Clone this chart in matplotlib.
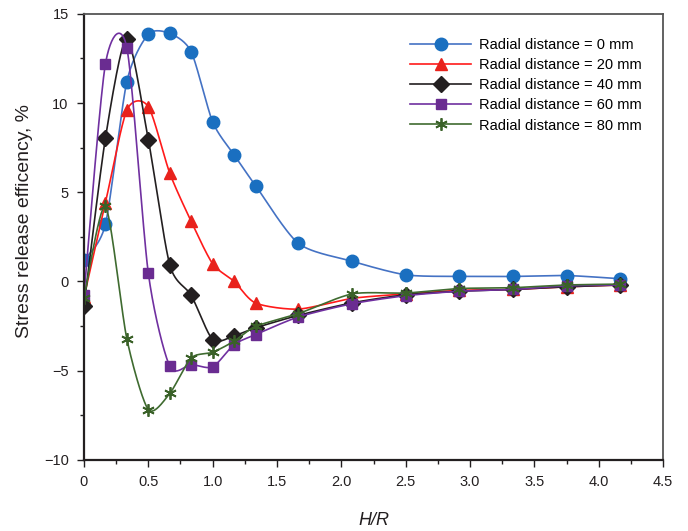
import numpy as np
import matplotlib
matplotlib.use('Agg')
import matplotlib.pyplot as plt
from matplotlib.ticker import MultipleLocator

plt.rcParams['font.family'] = ['Liberation Sans', 'DejaVu Sans']

hr = [0, 1/6, 1/3, 0.5, 2/3, 5/6, 1.0, 7/6, 4/3, 5/3, 25/12, 2.5, 35/12, 10/3, 3.75, 25/6]

r0  = [1.2, 3.2, 11.2, 13.85, 13.9, 12.87, 8.94, 7.09, 5.37, 2.13, 1.13, 0.37, 0.28, 0.28, 0.33, 0.15]
r20 = [-0.9, 4.4, 9.6, 9.8, 6.07, 3.36, 0.99, 0.0, -1.21, -1.55, -0.95, -0.7, -0.5, -0.45, -0.3, -0.2]
r40 = [-1.4, 8.02, 13.6, 7.95, 0.93, -0.78, -3.26, -3.05, -2.6, -1.9, -1.2, -0.75, -0.55, -0.45, -0.3, -0.2]
r60 = [-0.78, 12.18, 13.1, 0.47, -4.76, -4.66, -4.79, -3.54, -2.98, -1.99, -1.25, -0.8, -0.55, -0.45, -0.25, -0.2]
r80 = [-0.95, 4.2, -3.22, -7.18, -6.28, -4.29, -3.97, -3.35, -2.52, -1.8, -0.7, -0.65, -0.4, -0.35, -0.2, -0.15]

labels = ['Radial distance = 0 mm', 'Radial distance = 20 mm', 'Radial distance = 40 mm',
          'Radial distance = 60 mm', 'Radial distance = 80 mm']


def smooth(x, y, n=30, k=8.0):
    # bezier curve through the points, a bit like excel smoothed lines
    x = np.asarray(x, float); y = np.asarray(y, float)
    px = np.concatenate([[x[0]], x, [x[-1]]])
    py = np.concatenate([[y[0]], y, [y[-1]]])
    xs, ys = [], []
    t = np.linspace(0, 1, n)
    for i in range(1, len(px) - 2):
        p0 = np.array([px[i], py[i]]); p3 = np.array([px[i+1], py[i+1]])
        p1 = p0 + (np.array([px[i+1], py[i+1]]) - np.array([px[i-1], py[i-1]])) / k
        p2 = p3 - (np.array([px[i+2], py[i+2]]) - np.array([px[i], py[i]])) / k
        b = ((1-t)**3)[:, None]*p0 + (3*(1-t)**2*t)[:, None]*p1 + (3*(1-t)*t**2)[:, None]*p2 + (t**3)[:, None]*p3
        xs.append(b[:, 0]); ys.append(b[:, 1])
    return np.concatenate(xs), np.concatenate(ys)


fig = plt.figure(figsize=(6.88, 5.31), dpi=100)
ax = fig.add_axes([0.122, 0.134, 0.842, 0.840])

series = [
    (r0, '#4472c4', '#1a6fc0', 'o', 9),
    (r20, '#ff1a1a', '#e8221c', '^', 8),
    (r40, '#231f20', '#231f20', 'D', 8),
    (r60, '#7030a0', '#6a2c91', 's', 6.5),
    (r80, '#3f6b30', '#3a6128', 'x', 8),
]

for (vals, lc, mc, mk, ms), lab in zip(series, labels):
    sx, sy = smooth(hr, vals)
    ax.plot(sx, sy, color=lc, lw=1.2)
    if mk == 'x':
        ax.plot(hr, vals, ls='none', marker=(6, 2, 0), ms=ms+1, mew=1.3, color=mc)
        ax.plot([], [], color=lc, lw=1.2, marker=(6, 2, 0), ms=ms+1, mew=1.3, mec=mc, label=lab)
    else:
        ax.plot(hr, vals, ls='none', marker=mk, ms=ms, color=mc, mec=mc)
        ax.plot([], [], color=lc, lw=1.2, marker=mk, ms=ms, mfc=mc, mec=mc, label=lab)

ax.set_xlim(0, 4.5)
ax.set_ylim(-10, 15)
ax.xaxis.set_minor_locator(MultipleLocator(0.25))
ax.yaxis.set_major_locator(MultipleLocator(5))
ax.yaxis.set_minor_locator(MultipleLocator(2.5))
ax.set_xticks(np.arange(0, 4.51, 0.5))
ax.set_xticklabels(['0'] + ['%.1f' % v for v in np.arange(0.5, 4.51, 0.5)])

ax.tick_params(axis='both', which='major', length=5, width=1, labelsize=10.5, colors='#231f20', pad=6)
ax.tick_params(axis='both', which='minor', length=3, width=1, colors='#231f20')
for s in ['left', 'bottom']:
    ax.spines[s].set_linewidth(1.6)
    ax.spines[s].set_color('#231f20')
for s in ['top', 'right']:
    ax.spines[s].set_linewidth(1.3)
    ax.spines[s].set_color('#555555')

ax.set_ylabel('Stress release efficency, %', fontsize=14, color='#231f20')
ax.yaxis.set_label_coords(-0.088, 0.535)
ax.set_xlabel('H/R', fontsize=13, style='italic', color='#231f20')
ax.xaxis.set_label_coords(0.5, -0.118)

ax.legend(loc='upper right', bbox_to_anchor=(0.985, 0.975), frameon=False, fontsize=10.5,
          handlelength=4.2, handletextpad=0.5, labelspacing=0.42)

fig.savefig('out.png', dpi=100)
